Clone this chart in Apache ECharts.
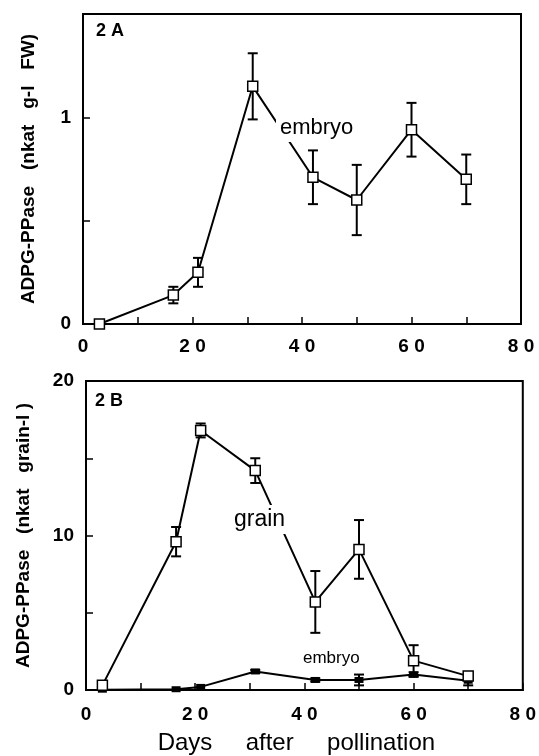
<!DOCTYPE html>
<html>
<head>
<meta charset="utf-8">
<script src="https://cdn.jsdelivr.net/npm/echarts@6/dist/echarts.min.js"></script>
<style>
  html, body { margin: 0; padding: 0; background: #fff; }
  #chart { width: 539px; height: 756px; }
</style>
</head>
<body>
<div id="chart"></div>
<script>
// days after pollination (shared by both panels)
const days = [3, 16.5, 21, 31, 42, 50, 60, 70];

// panel 2A: embryo, nkat g-1 FW
const embryoA = [0, 0.14, 0.25, 1.15, 0.71, 0.60, 0.94, 0.70];
const embryoAErr = [0, 0.04, 0.07, 0.16, 0.13, 0.17, 0.13, 0.12];

// panel 2B: nkat grain-1
const grainB = [0.3, 9.6, 16.8, 14.2, 5.7, 9.1, 1.9, 0.9];
const grainBErr = [0, 0.95, 0.45, 0.8, 2.0, 1.9, 1.0, 0.2];
const embryoB = [0.02, 0.05, 0.2, 1.2, 0.65, 0.65, 1.0, 0.6];
const embryoBErr = [0, 0, 0, 0.1, 0.1, 0.35, 0.15, 0.3];

// tick labels
const xTickLabels = ['0', '', '2 0', '', '4 0', '', '6 0', '', '8 0'];
const yTickLabelsA = ['0', '', '1', ''];
const yTickLabelsB = ['0', '', '10', '', '20'];

const FONT = 'Liberation Sans';

const chart = echarts.init(document.getElementById('chart'), null, { renderer: 'canvas' });

function pairs(vals, errs) {
  return days.map((d, i) => [d, vals[i], errs[i]]);
}

function errorBars(params, api) {
  const x = api.value(0);
  const y = api.value(1);
  const e = api.value(2);
  if (!e) return;
  const hi = api.coord([x, y + e]);
  const lo = api.coord([x, y - e]);
  const w = 5;
  const style = { stroke: '#000', lineWidth: 2 };
  return {
    type: 'group',
    children: [
      { type: 'line', shape: { x1: hi[0], y1: hi[1], x2: lo[0], y2: lo[1] }, style },
      { type: 'line', shape: { x1: hi[0] - w, y1: hi[1], x2: hi[0] + w, y2: hi[1] }, style },
      { type: 'line', shape: { x1: lo[0] - w, y1: lo[1], x2: lo[0] + w, y2: lo[1] }, style }
    ]
  };
}

function xAxis(gridIndex, labelMargin, name) {
  return {
    type: 'value',
    gridIndex,
    min: 0,
    max: 80,
    interval: 10,
    axisLine: { lineStyle: { color: '#000', width: 2 } },
    axisTick: { inside: true, length: 7, lineStyle: { color: '#000', width: 1.5 } },
    splitLine: { show: false },
    axisLabel: {
      margin: labelMargin,
      color: '#000',
      fontFamily: FONT,
      fontWeight: 'bold',
      fontSize: 19,
      formatter: v => xTickLabels[Math.round(v / 10)] || ''
    },
    name: name || '',
    nameLocation: 'middle',
    nameGap: 41,
    nameTextStyle: { color: '#000', fontFamily: FONT, fontSize: 24, padding: [0, 16, 0, 0] }
  };
}

function yAxis(gridIndex, max, interval, labels, name, nameGap) {
  return {
    type: 'value',
    gridIndex,
    min: 0,
    max,
    interval,
    axisLine: { lineStyle: { color: '#000', width: 2 } },
    axisTick: { inside: true, length: 7, lineStyle: { color: '#000', width: 1.5 } },
    splitLine: { show: false },
    axisLabel: {
      margin: 12,
      color: '#000',
      fontFamily: FONT,
      fontWeight: 'bold',
      fontSize: 19,
      formatter: v => labels[Math.round(v / interval)] || ''
    },
    name,
    nameLocation: 'middle',
    nameRotate: 90,
    nameGap,
    nameTextStyle: { color: '#000', fontFamily: FONT, fontWeight: 'bold', fontSize: 19 }
  };
}

const openSquare = {
  type: 'line',
  symbol: 'rect',
  symbolSize: 10,
  z: 5,
  lineStyle: { color: '#000', width: 2 },
  itemStyle: { color: '#fff', borderColor: '#000', borderWidth: 1.5 }
};

const option = {
  animation: false,
  backgroundColor: '#fff',
  grid: [
    { left: 83, top: 14, right: 18, height: 310, show: true, borderColor: '#000', borderWidth: 2 },
    { left: 86, top: 381, right: 14, height: 310, show: true, borderColor: '#000', borderWidth: 2 }
  ],
  xAxis: [
    xAxis(0, 13),
    xAxis(1, 15, 'Days     after     pollination')
  ],
  yAxis: [
    yAxis(0, 1.5, 0.5, yTickLabelsA, 'ADPG-PPase   (nkat   g-l   FW)', 45),
    yAxis(1, 20, 5, yTickLabelsB, 'ADPG-PPase   (nkat   grain-l )', 53)
  ],
  series: [
    {
      type: 'custom', xAxisIndex: 0, yAxisIndex: 0, z: 3,
      renderItem: errorBars, data: pairs(embryoA, embryoAErr)
    },
    Object.assign({}, openSquare, {
      name: 'embryo', xAxisIndex: 0, yAxisIndex: 0,
      data: days.map((d, i) => [d, embryoA[i]])
    }),
    {
      type: 'custom', xAxisIndex: 1, yAxisIndex: 1, z: 3,
      renderItem: errorBars, data: pairs(grainB, grainBErr)
    },
    Object.assign({}, openSquare, {
      name: 'grain', xAxisIndex: 1, yAxisIndex: 1,
      data: days.map((d, i) => [d, grainB[i]])
    }),
    {
      type: 'custom', xAxisIndex: 1, yAxisIndex: 1, z: 3,
      renderItem: errorBars, data: pairs(embryoB, embryoBErr)
    },
    {
      type: 'line', name: 'embryo B', xAxisIndex: 1, yAxisIndex: 1, z: 4,
      symbol: 'rect', symbolSize: [9, 6],
      lineStyle: { color: '#000', width: 2 },
      itemStyle: { color: '#000' },
      data: days.map((d, i) => [d, embryoB[i]])
    }
  ],
  graphic: [
    { type: 'text', left: 96, top: 22, z: 100,
      style: { text: '2 A', fill: '#000', font: 'bold 18px "Liberation Sans"' } },
    { type: 'text', left: 95, top: 392, z: 100,
      style: { text: '2 B', fill: '#000', font: 'bold 18px "Liberation Sans"' } },
    { type: 'text', left: 276, top: 114, z: 100,
      style: { text: 'embryo', fill: '#000', font: '22px "Liberation Sans"',
               backgroundColor: '#fff', padding: [3, 4] } },
    { type: 'text', left: 228, top: 505, z: 100,
      style: { text: 'grain', fill: '#000', font: '23px "Liberation Sans"',
               backgroundColor: '#fff', padding: [3, 6] } },
    { type: 'text', left: 303, top: 650, z: 100,
      style: { text: 'embryo', fill: '#000', font: '17px "Liberation Sans"' } }
  ]
};

chart.setOption(option);
</script>
</body>
</html>
